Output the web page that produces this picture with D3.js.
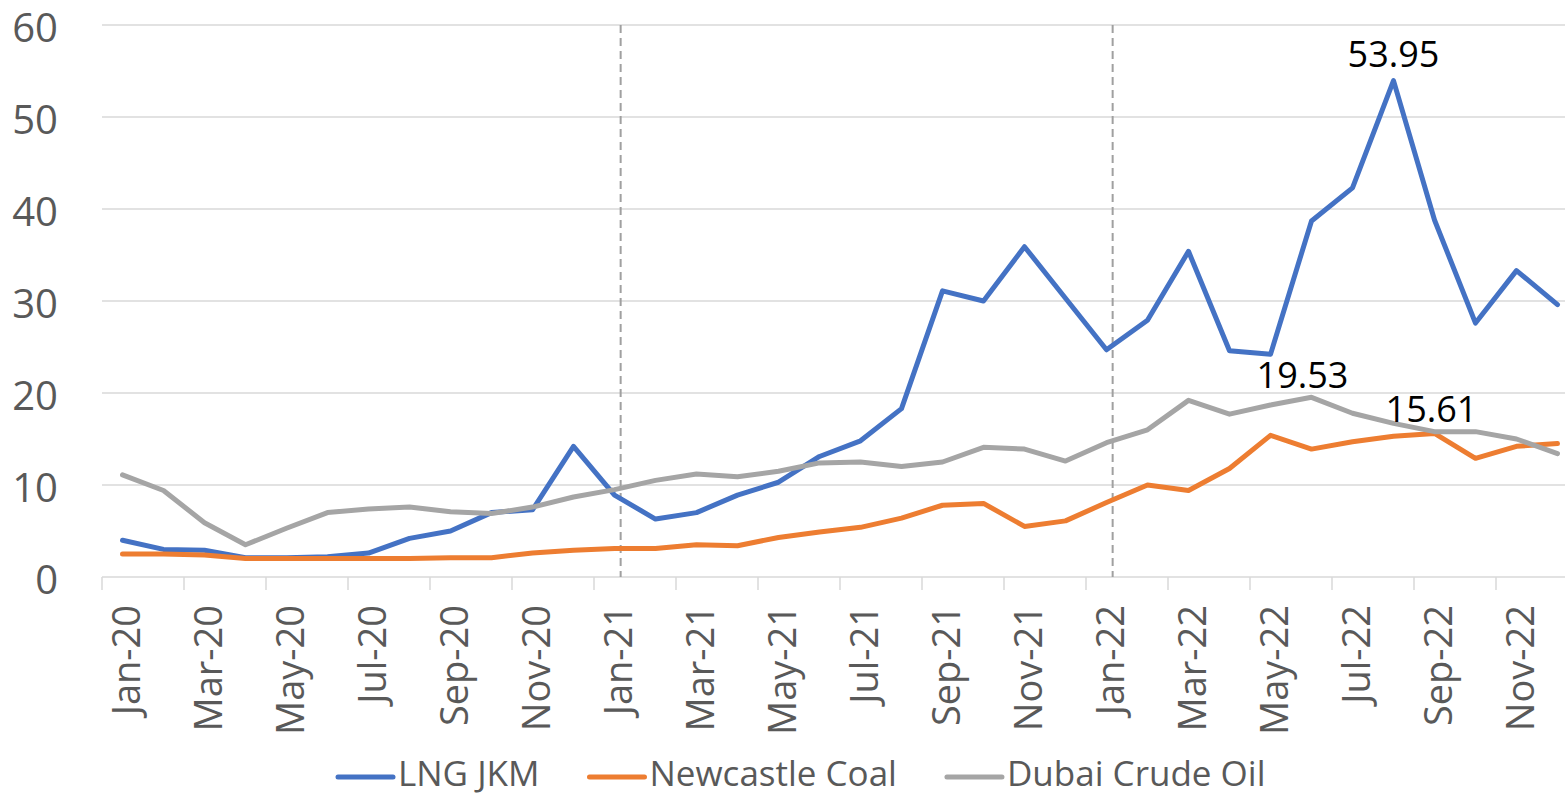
<!DOCTYPE html>
<html>
<head>
<meta charset="utf-8">
<script src="https://cdn.jsdelivr.net/npm/d3@7"></script>
<style>
  html, body { margin: 0; padding: 0; background: #fff; }
  svg { display: block; font-family: "Open Sans", "Noto Sans", sans-serif; }
</style>
</head>
<body>
<svg id="chart" width="1565" height="795"></svg>
<script>
// ---- Data ----
const months = ["Jan-20","Feb-20","Mar-20","Apr-20","May-20","Jun-20","Jul-20","Aug-20","Sep-20","Oct-20","Nov-20","Dec-20",
                "Jan-21","Feb-21","Mar-21","Apr-21","May-21","Jun-21","Jul-21","Aug-21","Sep-21","Oct-21","Nov-21","Dec-21",
                "Jan-22","Feb-22","Mar-22","Apr-22","May-22","Jun-22","Jul-22","Aug-22","Sep-22","Oct-22","Nov-22","Dec-22"];
const lngJKM = [4.0, 3.0, 2.9, 2.1, 2.1, 2.2, 2.6, 4.2, 5.0, 7.0, 7.3, 14.2,
                8.9, 6.3, 7.0, 8.9, 10.3, 13.1, 14.8, 18.3, 31.1, 30.0, 35.9, 30.3,
                24.7, 27.9, 35.4, 24.6, 24.2, 38.7, 42.3, 53.95, 38.8, 27.6, 33.3, 29.6];
const newcastleCoal = [2.5, 2.5, 2.4, 2.0, 2.0, 2.0, 2.0, 2.0, 2.1, 2.1, 2.6, 2.9,
                       3.1, 3.1, 3.5, 3.4, 4.3, 4.9, 5.4, 6.4, 7.8, 8.0, 5.5, 6.1,
                       8.1, 10.0, 9.4, 11.8, 15.4, 13.9, 14.7, 15.3, 15.61, 12.9, 14.2, 14.5];
const dubaiCrude = [11.1, 9.4, 5.9, 3.5, 5.3, 7.0, 7.4, 7.6, 7.1, 6.9, 7.6, 8.7,
                    9.5, 10.5, 11.2, 10.9, 11.5, 12.4, 12.5, 12.0, 12.5, 14.1, 13.9, 12.6,
                    14.6, 16.0, 19.2, 17.7, 18.7, 19.53, 17.8, 16.7, 15.8, 15.8, 15.0, 13.4];
const seriesNames = ["LNG JKM", "Newcastle Coal", "Dubai Crude Oil"];
const seriesColors = ["#4472C4", "#ED7D31", "#A5A5A5"];
const yTicks = [0, 10, 20, 30, 40, 50, 60];
const dividerMonths = ["Jan-21", "Jan-22"];
// data labels: [series index, month]
const dataLabels = [[0, "Aug-22"], [2, "Jun-22"], [1, "Sep-22"]];

const allSeries = [lngJKM, newcastleCoal, dubaiCrude];

// ---- Layout ----
const svg = d3.select("#chart");
const x = d3.scaleBand().domain(months).range([102, 102 + 41 * months.length]).padding(0);
const y = d3.scaleLinear().domain([0, 60]).range([577, 25]);
const cx = m => x(m) + x.bandwidth() / 2;
const axisColor = "#d9d9d9";
const textColor = "#595959";

// gridlines
svg.append("g").selectAll("line").data(yTicks.filter(t => t > 0)).join("line")
  .attr("x1", x.range()[0]).attr("x2", x.range()[1])
  .attr("y1", d => y(d)).attr("y2", d => y(d))
  .attr("stroke", axisColor).attr("stroke-width", 1.5);

// y labels
svg.append("g").selectAll("text").data(yTicks).join("text")
  .attr("x", 58).attr("y", d => y(d) + 1)
  .attr("text-anchor", "end").attr("dominant-baseline", "central")
  .attr("font-size", 40).attr("fill", textColor)
  .text(d => d);

// x axis line
svg.append("line")
  .attr("x1", x.range()[0]).attr("x2", x.range()[1])
  .attr("y1", y(0)).attr("y2", y(0))
  .attr("stroke", axisColor).attr("stroke-width", 1.5);

// ticks every 2 months
const tickMonths = months.filter((m, i) => i % 2 === 0);
svg.append("g").selectAll("line").data(tickMonths.concat(["__end"])).join("line")
  .attr("x1", d => d === "__end" ? x.range()[1] : x(d))
  .attr("x2", d => d === "__end" ? x.range()[1] : x(d))
  .attr("y1", y(0)).attr("y2", y(0) + 13)
  .attr("stroke", axisColor).attr("stroke-width", 1.5);

// x labels (rotated)
svg.append("g").selectAll("text").data(tickMonths).join("text")
  .attr("transform", d => `translate(${cx(d) + 2},605) rotate(-90)`)
  .attr("text-anchor", "end").attr("dominant-baseline", "central")
  .attr("font-size", 38).attr("fill", textColor)
  .text(d => d);

// dashed dividers
svg.append("g").selectAll("line").data(dividerMonths).join("line")
  .attr("x1", d => x(d) + x.bandwidth() * 0.65)
  .attr("x2", d => x(d) + x.bandwidth() * 0.65)
  .attr("y1", y(60)).attr("y2", y(0))
  .attr("stroke", "#a0a0a0").attr("stroke-width", 2)
  .attr("stroke-dasharray", "8,5");

// series lines
const line = d3.line().x((d, i) => cx(months[i])).y(d => y(d));
svg.append("g").selectAll("path").data(allSeries).join("path")
  .attr("d", d => line(d))
  .attr("fill", "none")
  .attr("stroke", (d, i) => seriesColors[i])
  .attr("stroke-width", 5)
  .attr("stroke-linejoin", "round")
  .attr("stroke-linecap", "round");

// data labels
const labelOffsets = [[0, -14], [-9, -9], [-3, -11]];
svg.append("g").selectAll("text").data(dataLabels).join("text")
  .attr("x", (d, i) => cx(d[1]) + labelOffsets[i][0])
  .attr("y", (d, i) => y(allSeries[d[0]][months.indexOf(d[1])]) + labelOffsets[i][1])
  .attr("text-anchor", "middle")
  .attr("font-size", 36).attr("fill", "#000")
  .text(d => allSeries[d[0]][months.indexOf(d[1])].toFixed(2));

// legend
const legend = svg.append("g");
let lx = 338;
seriesNames.forEach((name, i) => {
  legend.append("line")
    .attr("x1", lx).attr("x2", lx + 55)
    .attr("y1", 777).attr("y2", 777)
    .attr("stroke", seriesColors[i]).attr("stroke-width", 5)
    .attr("stroke-linecap", "round");
  const t = legend.append("text")
    .attr("x", lx + 60).attr("y", 786)
    .attr("font-size", 35).attr("fill", textColor)
    .text(name);
  lx = lx + 60 + t.node().getComputedTextLength() + 50;
});
</script>
</body>
</html>
